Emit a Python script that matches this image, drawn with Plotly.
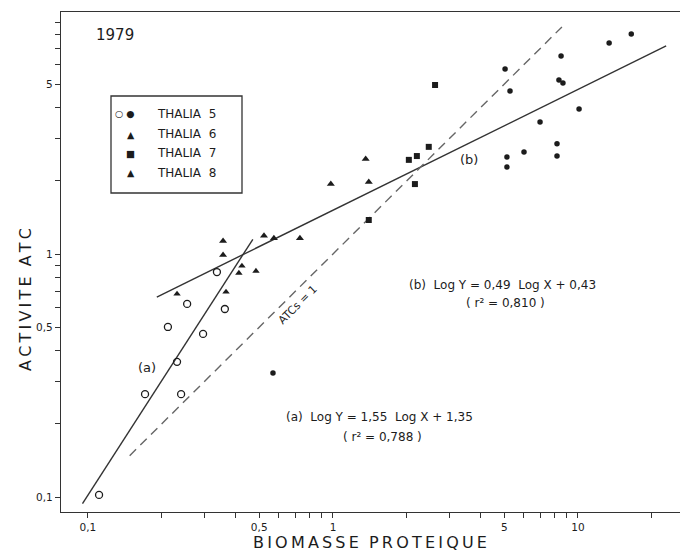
import plotly.graph_objects as go

# ---------------- data ----------------
# THALIA 5 (open circles)
t5_open_x = [0.336, 0.254, 0.362, 0.212, 0.295, 0.231, 0.171, 0.240, 0.111]
t5_open_y = [0.843, 0.623, 0.594, 0.501, 0.469, 0.360, 0.265, 0.265, 0.102]
# THALIA 5 (filled circles)
t5_fill_x = [5.04, 5.28, 8.53, 8.36, 8.68, 10.1, 7.0, 6.02, 5.13, 5.13, 8.21, 8.21, 13.4, 16.5, 0.569]
t5_fill_y = [5.77, 4.69, 6.53, 5.20, 5.06, 3.95, 3.49, 2.63, 2.51, 2.28, 2.84, 2.53, 7.38, 8.04, 0.324]
# THALIA 6 (triangles)
t6_x = [0.356, 0.356, 0.523, 0.574, 0.733, 0.98, 1.40, 1.36]
t6_y = [1.13, 0.99, 1.19, 1.16, 1.16, 1.94, 1.98, 2.46]
# THALIA 7 (squares)
t7_x = [1.40, 2.04, 2.20, 2.16, 2.46, 2.61]
t7_y = [1.38, 2.44, 2.53, 1.94, 2.76, 4.96]
# THALIA 8 (small triangles)
t8_x = [0.231, 0.366, 0.425, 0.413, 0.485]
t8_y = [0.685, 0.698, 0.893, 0.835, 0.851]

# regression lines (a), (b) and the ATCs = 1 line
reg_a_x = [0.095, 0.471]
reg_a_y = [0.094, 1.15]
reg_b_x = [0.191, 22.9]
reg_b_y = [0.665, 7.18]
atc1_x = [0.148, 8.6]
atc1_y = [0.148, 8.6]

# axes ticks
x_tickvals = [0.1, 0.2, 0.3, 0.4, 0.5, 0.6, 0.7, 0.8, 0.9, 1, 2, 3, 4, 5, 6, 7, 8, 9, 10, 20]
x_ticktext = ["0,1", "", "", "", "0,5", "", "", "", "", "1", "", "", "", "5", "", "", "", "", "10", ""]
y_tickvals = [0.1, 0.2, 0.3, 0.4, 0.5, 0.6, 0.7, 0.8, 0.9, 1, 2, 3, 4, 5, 6, 7, 8, 9]
y_ticktext = ["0,1", "", "", "", "0,5", "", "", "", "", "1", "", "", "", "5", "", "", "", ""]

legend_symbols = ["○ ●", "▲", "■", "▲"]
legend_labels = ["THALIA  5", "THALIA  6", "THALIA  7", "THALIA  8"]

# ---------------- figure ----------------
INK = "#1c1c1c"
LINE = "#333333"
FONT = "DejaVu Sans"
TS = "\u2009"

fig = go.Figure()

fig.add_trace(go.Scatter(x=reg_a_x, y=reg_a_y, mode="lines",
                         line=dict(color=LINE, width=1.4), showlegend=False, hoverinfo="skip"))
fig.add_trace(go.Scatter(x=reg_b_x, y=reg_b_y, mode="lines",
                         line=dict(color=LINE, width=1.4), showlegend=False, hoverinfo="skip"))
fig.add_trace(go.Scatter(x=atc1_x, y=atc1_y, mode="lines",
                         line=dict(color="#666666", width=1.4, dash="9px,6px"),
                         showlegend=False, hoverinfo="skip"))

fig.add_trace(go.Scatter(x=t5_open_x, y=t5_open_y, mode="markers", name="THALIA 5",
                         marker=dict(symbol="circle-open", size=7, color=INK, line=dict(width=1.3, color=INK)),
                         showlegend=False))
fig.add_trace(go.Scatter(x=t5_fill_x, y=t5_fill_y, mode="markers", name="THALIA 5",
                         marker=dict(symbol="circle", size=5.5, color=INK), showlegend=False))
fig.add_trace(go.Scatter(x=t6_x, y=t6_y, mode="markers", name="THALIA 6",
                         marker=dict(symbol="triangle-up", size=7, color=INK), showlegend=False))
fig.add_trace(go.Scatter(x=t7_x, y=t7_y, mode="markers", name="THALIA 7",
                         marker=dict(symbol="square", size=6, color=INK), showlegend=False))
fig.add_trace(go.Scatter(x=t8_x, y=t8_y, mode="markers", name="THALIA 8",
                         marker=dict(symbol="triangle-up", size=6.5, color=INK), showlegend=False))

# page body has an 8px default margin: compensate so the plot lands where the reference has it
OFF = 8
SCR_W, SCR_H = 688, 554
PL, PR, PT, PB = 61, 682, 12, 512          # plot area in screen pixels
W, H = SCR_W - OFF, SCR_H - OFF
L, T = PL - OFF, PT - OFF
R, B = W - (PR - OFF), H - (PB - OFF)
PW, PH = PR - PL, PB - PT


def px(x):
    return (x - PL) / PW


def py(y):
    return (PB - y) / PH


axis_common = dict(type="log", showgrid=False, zeroline=False, showline=True,
                   linecolor=LINE, linewidth=1.3, mirror=True,
                   ticks="outside", ticklen=5, tickwidth=1.1, tickcolor=LINE,
                   tickmode="array", automargin=False,
                   tickfont=dict(family=FONT, size=10.5, color=INK))

fig.update_layout(
    width=W, height=H,
    margin=dict(l=L, r=R, t=T, b=B),
    paper_bgcolor="white", plot_bgcolor="white",
    showlegend=False,
    xaxis=dict(range=[-1.110, 1.4245], tickvals=x_tickvals, ticktext=x_ticktext, **axis_common),
    yaxis=dict(range=[-1.0617, 0.9959], tickvals=y_tickvals, ticktext=y_ticktext, **axis_common),
    font=dict(family=FONT, color=INK),
)

ann = []


def add_text(text, x, y, size, **kw):
    d = dict(text=text, x=px(x), y=py(y), xref="paper", yref="paper",
             showarrow=False, font=dict(family=FONT, size=size, color=INK),
             xanchor="center", yanchor="middle")
    d.update(kw)
    ann.append(d)


add_text("1979", 115, 35, 15)
add_text("(a)", 147, 367, 13)
add_text("(b)", 469, 159, 13)
add_text("(b)  Log Y = 0,49  Log X + 0,43", 502, 285, 12)
add_text("( r² = 0,810 )", 505, 303, 12)
add_text("(a)  Log Y = 1,55  Log X + 1,35", 380, 417, 12)
add_text("( r² = 0,788 )", 382, 437, 12)
add_text("ATCs = 1", 297, 305, 11, textangle=-45)

xt = TS.join("BIOMASSE") + "  " + TS.join("PROTEIQUE")
add_text(xt, 370, 542, 16)
yt = TS.join("ACTIVITE") + "  " + TS.join("ATC")
add_text(yt, 25, 300, 16, textangle=-90)

rows_y = [114, 134, 153, 173]
for sym, lab, ry in zip(legend_symbols, legend_labels, rows_y):
    add_text(sym, 137, ry, 9.5, xanchor="right")
    add_text(lab, 155, ry, 12, xanchor="left")

fig.update_layout(annotations=ann)

fig.add_shape(type="rect", xref="paper", yref="paper",
              x0=px(111), x1=px(242), y0=py(193), y1=py(96),
              line=dict(color=LINE, width=1.3), fillcolor="rgba(0,0,0,0)")

fig.write_html("out.html")
